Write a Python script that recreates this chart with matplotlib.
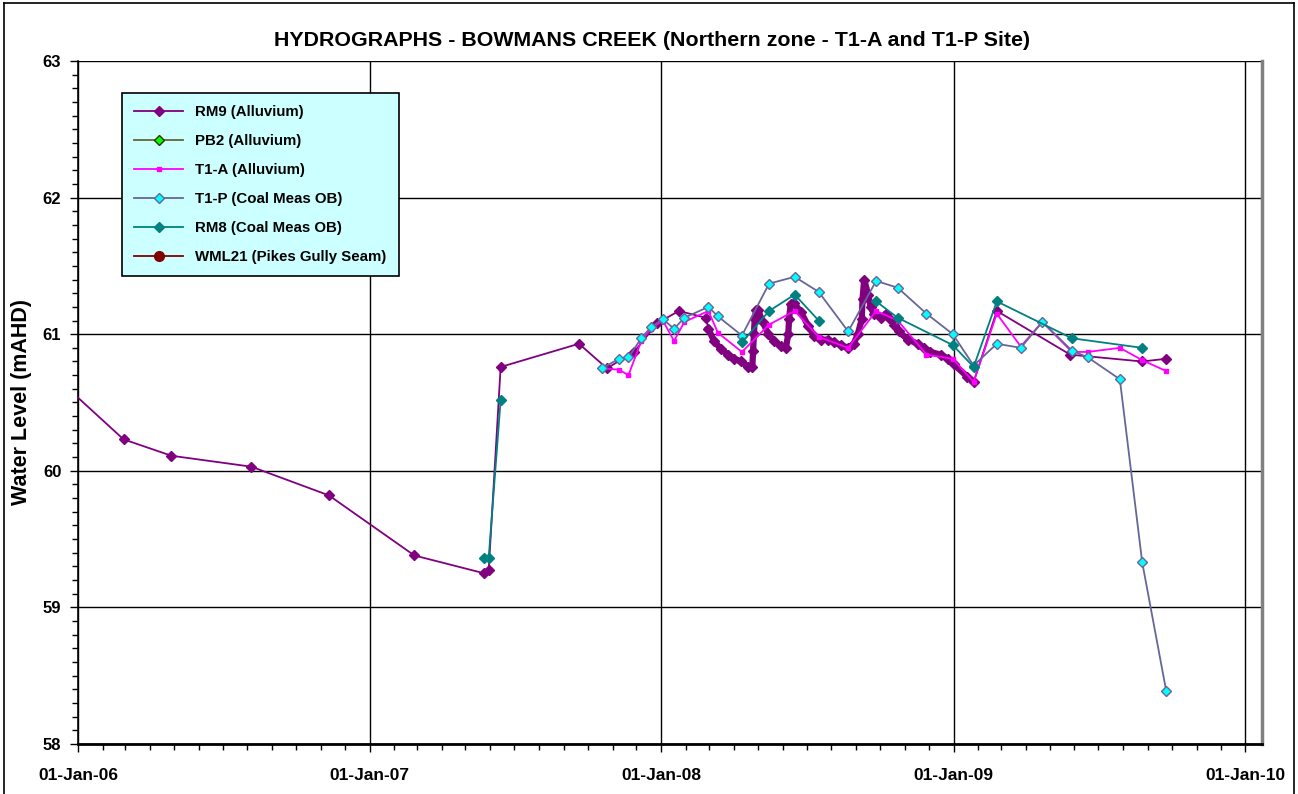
import matplotlib
matplotlib.use('Agg')
import matplotlib.pyplot as plt
import matplotlib.dates as mdates
from matplotlib.lines import Line2D
import numpy as np
import pandas as pd

plt.rcParams['font.family'] = ['Liberation Sans', 'DejaVu Sans']
plt.rcParams['font.weight'] = 'bold'

# RM9 (Alluvium) - manual readings plus logger period 2008
rm9_dates = ['2005-11-20', '2006-02-27', '2006-04-28', '2006-08-06', '2006-11-11',
             '2007-02-26', '2007-05-24', '2007-05-30', '2007-06-14', '2007-09-20',
             '2007-10-25', '2007-11-28', '2007-12-27', '2008-01-23', '2008-02-26',
             '2008-02-29', '2008-03-07', '2008-03-16', '2008-03-25', '2008-04-01',
             '2008-04-10', '2008-04-19', '2008-04-24', '2008-04-25', '2008-04-26',
             '2008-04-27', '2008-04-29', '2008-05-01', '2008-05-07', '2008-05-14',
             '2008-05-21', '2008-05-30', '2008-06-05', '2008-06-08', '2008-06-09',
             '2008-06-11', '2008-06-15', '2008-06-24', '2008-07-03', '2008-07-10',
             '2008-07-19', '2008-07-28', '2008-08-04', '2008-08-13', '2008-08-22',
             '2008-08-29', '2008-09-03', '2008-09-08', '2008-09-09', '2008-09-11',
             '2008-09-16', '2008-09-19', '2008-09-23', '2008-10-02', '2008-10-08',
             '2008-10-12', '2008-10-18', '2008-10-24', '2008-11-05', '2008-11-17',
             '2008-11-25', '2008-12-03', '2008-12-16', '2008-12-25', '2009-01-01',
             '2009-01-18', '2009-01-26', '2009-02-24', '2009-05-27', '2009-08-25',
             '2009-09-24']
rm9_vals = [60.76, 60.23, 60.11, 60.03, 59.82,
            59.38, 59.25, 59.27, 60.76, 60.93,
            60.75, 60.87, 61.08, 61.17, 61.12,
            61.04, 60.95, 60.89, 60.85, 60.82,
            60.80, 60.76, 60.76, 60.88, 61.00,
            61.11, 61.18, 61.18, 61.09, 61.00,
            60.95, 60.91, 60.90, 61.00, 61.11,
            61.22, 61.23, 61.16, 61.06, 60.99,
            60.96, 60.96, 60.94, 60.92, 60.90,
            60.93, 61.00, 61.11, 61.26, 61.40,
            61.29, 61.20, 61.15, 61.12, 61.15,
            61.12, 61.07, 61.02, 60.96, 60.93,
            60.90, 60.87, 60.85, 60.82, 60.78,
            60.69, 60.65, 61.17, 60.85, 60.80,
            60.82]

# T1-A (Alluvium)
t1a_dates = ['2007-10-20', '2007-11-09', '2007-11-21', '2007-12-07', '2007-12-19',
             '2008-01-03', '2008-01-17', '2008-01-30', '2008-02-29', '2008-03-12',
             '2008-04-11', '2008-05-15', '2008-06-16', '2008-07-16', '2008-08-22',
             '2008-09-26', '2008-10-23', '2008-11-28', '2008-12-31', '2009-01-26',
             '2009-02-24', '2009-03-26', '2009-04-22', '2009-05-29', '2009-06-18',
             '2009-07-28', '2009-08-25', '2009-09-24']
t1a_vals = [60.75, 60.74, 60.70, 60.95, 61.04,
            61.10, 60.95, 61.09, 61.17, 61.01,
            60.87, 61.07, 61.17, 60.98, 60.90,
            61.17, 61.10, 60.85, 60.82, 60.65,
            61.15, 60.91, 61.09, 60.87, 60.87,
            60.90, 60.81, 60.73]

# T1-P (Coal Meas OB)
t1p_dates = ['2007-10-19', '2007-11-09', '2007-11-21', '2007-12-07', '2007-12-19',
             '2008-01-03', '2008-01-17', '2008-01-30', '2008-02-29', '2008-03-12',
             '2008-04-11', '2008-05-15', '2008-06-16', '2008-07-16', '2008-08-22',
             '2008-09-26', '2008-10-23', '2008-11-28', '2008-12-31', '2009-01-26',
             '2009-02-24', '2009-03-26', '2009-04-22', '2009-05-29', '2009-06-18',
             '2009-07-28', '2009-08-25', '2009-09-24']
t1p_vals = [60.75, 60.82, 60.83, 60.97, 61.05,
            61.11, 61.04, 61.12, 61.20, 61.13,
            60.99, 61.37, 61.42, 61.31, 61.02,
            61.39, 61.34, 61.15, 61.00, 60.77,
            60.93, 60.90, 61.09, 60.88, 60.83,
            60.67, 59.33, 58.39]

# RM8 (Coal Meas OB) - gaps where no reading
rm8_dates = ['2007-05-24', '2007-05-30', '2007-06-14', '2007-10-01', '2008-04-11',
             '2008-05-15', '2008-06-16', '2008-07-16', '2008-08-22', '2008-09-26',
             '2008-10-23', '2008-12-31', '2009-01-26', '2009-02-24', '2009-05-29',
             '2009-08-25']
rm8_vals = [59.36, 59.36, 60.52, np.nan, 60.94,
            61.17, 61.29, 61.10, np.nan, 61.24,
            61.12, 60.92, 60.76, 61.24, 60.97,
            60.90]

logger_start, logger_end = '2008-02-28', '2009-01-27'

rm9_d = pd.to_datetime(rm9_dates)
rm9_v = np.array(rm9_vals)

fig = plt.figure(figsize=(12.98, 7.94), dpi=100)
ax = fig.add_axes([0.0601, 0.063, 0.9122, 0.8602])

ax.plot(rm9_d, rm9_v, color='#800080', lw=1.3, marker='D', ms=5.5,
        mec='#800080', label='RM9 (Alluvium)', zorder=3)
# logger period is dense - draw it thick
mask = (rm9_d >= logger_start) & (rm9_d <= logger_end)
ax.plot(rm9_d[mask], rm9_v[mask], color='#800080', lw=4.5, zorder=3)

ax.plot([], [], color='#666633', lw=1.3, marker='D', ms=5.5, mfc='#00FF00',
        mec='#333300', label='PB2 (Alluvium)')
ax.plot(pd.to_datetime(t1a_dates), t1a_vals, color='#FF00FF', lw=1.3, marker='s',
        ms=3, label='T1-A (Alluvium)', zorder=4)
ax.plot(pd.to_datetime(t1p_dates), t1p_vals, color='#666699', lw=1.3, marker='D',
        ms=5, mfc='#00FFFF', mec='#666699', mew=1, label='T1-P (Coal Meas OB)', zorder=5)
ax.plot(pd.to_datetime(rm8_dates), rm8_vals, color='#008080', lw=1.3, marker='D',
        ms=5.5, label='RM8 (Coal Meas OB)', zorder=6)
ax.plot([], [], color='#800000', lw=1.3, marker='o', ms=7,
        label='WML21 (Pikes Gully Seam)')

ax.set_xlim(pd.Timestamp('2006-01-01'), pd.Timestamp('2010-01-22'))
ax.set_ylim(58, 63)
ax.xaxis.set_major_locator(mdates.YearLocator())
ax.xaxis.set_minor_locator(mdates.MonthLocator())
ax.xaxis.set_major_formatter(mdates.DateFormatter('%d-%b-%y'))
ax.yaxis.set_major_locator(plt.MultipleLocator(1))
ax.yaxis.set_minor_locator(plt.MultipleLocator(0.1))

ax.grid(True, which='major', color='black', lw=1)
ax.tick_params(axis='x', which='major', length=6, width=1, pad=11, labelsize=12.5)
ax.tick_params(axis='x', which='minor', length=4, width=1)
ax.tick_params(axis='y', which='major', length=6, width=1, pad=6, labelsize=12)
ax.tick_params(axis='y', which='minor', length=4, width=1)
for lab in ax.get_xticklabels() + ax.get_yticklabels():
    lab.set_fontweight('bold')

ax.spines['top'].set_visible(False)
ax.spines['left'].set_linewidth(1.2)
ax.spines['bottom'].set_linewidth(2)
ax.spines['right'].set_color('#808080')
ax.spines['right'].set_linewidth(2.5)

ax.set_ylabel('Water Level (mAHD)', fontsize=15.5, fontweight='bold', labelpad=8)
fig.text(0.502, 0.949, 'HYDROGRAPHS - BOWMANS CREEK (Northern zone - T1-A and T1-P Site)',
         ha='center', va='center', fontsize=15.4, fontweight='bold')

leg = ax.legend(loc='upper left', bbox_to_anchor=(0.037, 0.953), borderaxespad=0,
                handlelength=3.3, labelspacing=1.0, borderpad=0.8,
                fancybox=False, framealpha=1, facecolor='#CCFFFF', edgecolor='black',
                prop={'weight': 'bold', 'size': 10.8})
leg.get_frame().set_linewidth(1.2)
leg.set_zorder(10)

# outer chart border
for xs, ys in [([0.003, 0.003], [-0.1, 0.996]), ([0.003, 0.997], [0.996, 0.996]),
               ([0.997, 0.997], [-0.1, 0.996])]:
    fig.add_artist(Line2D(xs, ys, color='black', lw=1.2, transform=fig.transFigure))

fig.savefig('out.png', dpi=100)
